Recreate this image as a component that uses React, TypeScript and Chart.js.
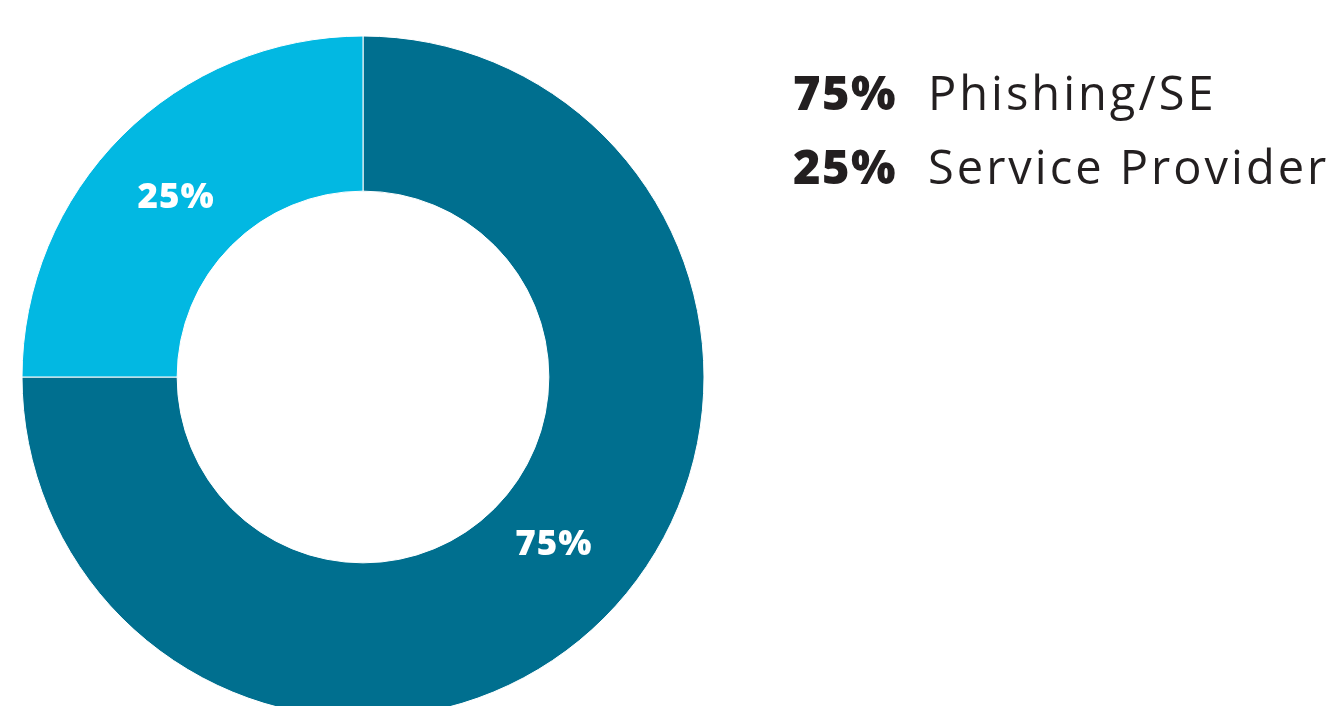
import React, { useEffect, useRef } from "react";
import { Chart, registerables } from "chart.js";

Chart.register(...registerables);

const categories = ["Phishing/SE", "Service Provider"];
const values = [75, 25];
const sliceLabels = ["75%", "25%"];
const colors = ["#006F8F", "#02B8E2"];

const labelPlugin = {
  id: "sliceAndLegendText",
  afterDraw(chart: any) {
    const ctx = chart.ctx;
    const meta = chart.getDatasetMeta(0);
    ctx.save();
    // slice labels
    ctx.fillStyle = "#ffffff";
    ctx.font = "800 35px 'Open Sans'";
    (ctx as any).letterSpacing = "1px";
    ctx.textAlign = "center";
    ctx.textBaseline = "alphabetic";
    const angleShift = [-0.07, -0.014];
    const radiusFactor = [0.96, 0.99];
    const capHalf = 12.5;
    meta.data.forEach((arc: any, i: number) => {
      const p = arc.getProps(["x", "y", "startAngle", "endAngle", "innerRadius", "outerRadius"], true);
      const mid = (p.startAngle + p.endAngle) / 2 + angleShift[i];
      const r = ((p.innerRadius + p.outerRadius) / 2) * radiusFactor[i];
      ctx.fillText(sliceLabels[i], p.x + Math.cos(mid) * r, p.y + Math.sin(mid) * r + capHalf);
    });
    // legend
    const x0 = chart.chartArea.right + 67;
    ctx.textAlign = "left";
    categories.forEach((c, i) => {
      const y = 110 + i * 74;
      ctx.fillStyle = "#231F20";
      ctx.font = "800 47px 'Open Sans'";
      (ctx as any).letterSpacing = "1.5px";
      ctx.fillText(values[i] + "%", x0, y);
      ctx.font = "400 47px 'Open Sans'";
      (ctx as any).letterSpacing = "3px";
      ctx.fillText(c, x0 + 135, y);
    });
    ctx.restore();
  },
};

export default function App() {
  const ref = useRef<HTMLCanvasElement>(null);
  useEffect(() => {
    if (!ref.current) return;
    const chart = new Chart(ref.current, {
      type: "doughnut",
      data: {
        labels: categories,
        datasets: [
          {
            data: values,
            backgroundColor: colors,
            borderColor: "#ffffff",
            borderWidth: 1,
            hoverOffset: 0,
          },
        ],
      },
      options: {
        animation: false,
        responsive: false,
        devicePixelRatio: 1,
        radius: 341,
        cutout: "54.5%",
        layout: { padding: { left: 0, top: 0, right: 617, bottom: 0 } },
        plugins: {
          legend: { display: false },
          tooltip: { enabled: false },
        },
        events: [],
      },
      plugins: [labelPlugin],
    });
    return () => chart.destroy();
  }, []);
  return (
    <div
      style={{
        position: "fixed",
        left: 0,
        top: 0,
        width: 1343,
        height: 706,
        overflow: "hidden",
        background: "#ffffff",
      }}
    >
      <canvas ref={ref} width={1343} height={754} style={{ display: "block" }} />
    </div>
  );
}
